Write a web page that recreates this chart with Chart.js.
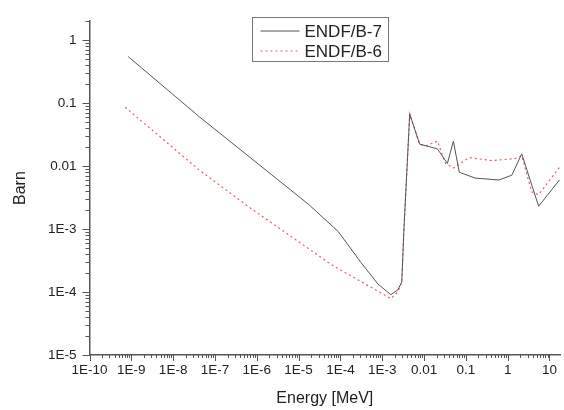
<!DOCTYPE html>
<html>
<head>
<meta charset="utf-8">
<script src="https://cdn.jsdelivr.net/npm/chart.js@4"></script>
<style>
  html, body { margin: 0; padding: 0; background: #fff; }
  #wrap { width: 564px; height: 410px; }
</style>
</head>
<body>
<div id="wrap"><canvas id="xsChart"></canvas></div>
<script>
// --- Data ---
const energyB7 = [8.4e-10, 4.3e-8, 1.73e-5, 8.9e-5, 3.13e-4, 7.9e-4, 1.61e-3, 2.36e-3, 2.94e-3, 3.27e-3, 4.55e-3, 7.85e-3, 0.021, 0.0362, 0.0503, 0.0697, 0.167, 0.618, 1.26, 2.17, 5.5, 17.3];
const barnB7   = [0.547, 0.060, 2.47e-3, 9.1e-4, 2.92e-4, 1.34e-4, 9.06e-5, 1.08e-4, 1.44e-4, 8.5e-4, 0.067, 0.0223, 0.0187, 0.011, 0.0248, 0.00797, 0.00644, 0.0060, 0.00716, 0.0156, 0.0023, 0.0060];

const energyB6 = [7.1e-10, 4.3e-8, 6.6e-7, 6.1e-5, 1.61e-3, 2.36e-3, 2.94e-3, 3.27e-3, 4.55e-3, 7.85e-3, 0.0109, 0.021, 0.0324, 0.0503, 0.12, 0.42, 1.48, 2.17, 3.75, 5.5, 17.3];
const barnB6   = [0.086, 0.00855, 2.22e-3, 2.72e-4, 7.85e-5, 1.0e-4, 1.44e-4, 8.5e-4, 0.067, 0.0223, 0.0208, 0.0248, 0.011, 0.0093, 0.0136, 0.0122, 0.0131, 0.0146, 0.0039, 0.0035, 0.0095];

const xTickValues = [1e-10, 1e-9, 1e-8, 1e-7, 1e-6, 1e-5, 1e-4, 1e-3, 0.01, 0.1, 1, 10];
const xTickLabels = ['1E-10', '1E-9', '1E-8', '1E-7', '1E-6', '1E-5', '1E-4', '1E-3', '0.01', '0.1', '1', '10'];
const yTickValues = [1e-5, 1e-4, 1e-3, 0.01, 0.1, 1];
const yTickLabels = ['1E-5', '1E-4', '1E-3', '0.01', '0.1', '1'];

const toPoints = (xs, ys) => xs.map((x, i) => ({ x: x, y: ys[i] }));

const axisColor = '#555555';
const fontFamily = '"Liberation Sans", Arial, sans-serif';

// minor + major tick marks, drawn outward like the original plot
const tickMarks = {
    id: 'tickMarks',
    afterDraw(chart) {
        const ctx = chart.ctx;
        const xs = chart.scales.x, ys = chart.scales.y;
        ctx.save();
        ctx.strokeStyle = axisColor;
        ctx.lineWidth = 1;
        ctx.beginPath();
        for (let e = -10; e <= 1; e++) {
            for (let m = 1; m <= 9; m++) {
                const v = m * Math.pow(10, e);
                if (v < xs.min || v > xs.max) continue;
                const px = Math.round(xs.getPixelForValue(v)) + 0.5;
                const len = m === 1 ? 6 : 3;
                ctx.moveTo(px, xs.top);
                ctx.lineTo(px, xs.top + len);
            }
        }
        for (let e = -5; e <= 0; e++) {
            for (let m = 1; m <= 9; m++) {
                const v = m * Math.pow(10, e);
                if (v < ys.min || v > ys.max) continue;
                const py = Math.round(ys.getPixelForValue(v)) + 0.5;
                const len = m === 1 ? 7 : 4;
                ctx.moveTo(ys.right, py);
                ctx.lineTo(ys.right - len, py);
            }
        }
        ctx.stroke();
        ctx.restore();
    }
};

// boxed legend in the upper middle of the plot
const boxLegend = {
    id: 'boxLegend',
    afterDraw(chart) {
        const ctx = chart.ctx;
        const x0 = 252.5, y0 = 17.5, w = 136, h = 44;
        ctx.save();
        ctx.fillStyle = '#fff';
        ctx.fillRect(x0, y0, w, h);
        ctx.strokeStyle = '#777';
        ctx.lineWidth = 1;
        ctx.strokeRect(x0, y0, w, h);
        ctx.font = '17px ' + fontFamily;
        ctx.textBaseline = 'middle';
        ctx.fillStyle = '#222';
        chart.data.datasets.forEach((ds, i) => {
            const y = y0 + 13.5 + i * 20;
            ctx.beginPath();
            ctx.strokeStyle = ds.borderColor;
            ctx.lineWidth = ds.borderWidth;
            ctx.setLineDash(ds.borderDash || []);
            ctx.moveTo(x0 + 8, y);
            ctx.lineTo(x0 + 47, y);
            ctx.stroke();
            ctx.setLineDash([]);
            ctx.fillText(ds.label, x0 + 52, y + 1);
        });
        ctx.restore();
    }
};

new Chart(document.getElementById('xsChart'), {
    type: 'line',
    data: {
        datasets: [
            {
                label: 'ENDF/B-7',
                data: toPoints(energyB7, barnB7),
                borderColor: '#555555',
                borderWidth: 1,
                pointRadius: 0,
                tension: 0
            },
            {
                label: 'ENDF/B-6',
                data: toPoints(energyB6, barnB6),
                borderColor: '#e06060',
                borderWidth: 1.2,
                borderDash: [2, 3],
                pointRadius: 0,
                tension: 0
            }
        ]
    },
    options: {
        responsive: true,
        maintainAspectRatio: false,
        animation: false,
        events: [],
        layout: { padding: { top: 12, right: 1, left: 0, bottom: 0 } },
        plugins: { legend: { display: false }, tooltip: { enabled: false } },
        scales: {
            x: {
                type: 'logarithmic',
                min: 1e-10,
                max: 18,
                afterBuildTicks: scale => { scale.ticks = xTickValues.map(v => ({ value: v })); },
                afterFit: scale => { scale.height = 55; },
                grid: { display: false, drawTicks: false },
                border: { display: true, color: axisColor, width: 1.5 },
                ticks: {
                    autoSkip: false,
                    maxRotation: 0,
                    padding: 7,
                    color: '#222',
                    font: { family: fontFamily, size: 13.5 },
                    callback: (v, i) => xTickLabels[i]
                },
                title: {
                    display: true,
                    text: 'Energy [MeV]',
                    color: '#222',
                    font: { family: fontFamily, size: 16 },
                    padding: { top: 0, bottom: 2 }
                }
            },
            y: {
                type: 'logarithmic',
                min: 1e-5,
                max: 2,
                afterBuildTicks: scale => { scale.ticks = yTickValues.map(v => ({ value: v })); },
                afterFit: scale => { scale.width = 89.5; },
                grid: { display: false, drawTicks: false },
                border: { display: true, color: axisColor, width: 1.5 },
                ticks: {
                    autoSkip: false,
                    padding: 13,
                    color: '#222',
                    font: { family: fontFamily, size: 13.5 },
                    callback: (v, i) => yTickLabels[i]
                },
                title: {
                    display: true,
                    text: 'Barn',
                    color: '#222',
                    font: { family: fontFamily, size: 16 },
                    padding: { top: 11, bottom: 0 }
                }
            }
        }
    },
    plugins: [tickMarks, boxLegend]
});
</script>
</body>
</html>
